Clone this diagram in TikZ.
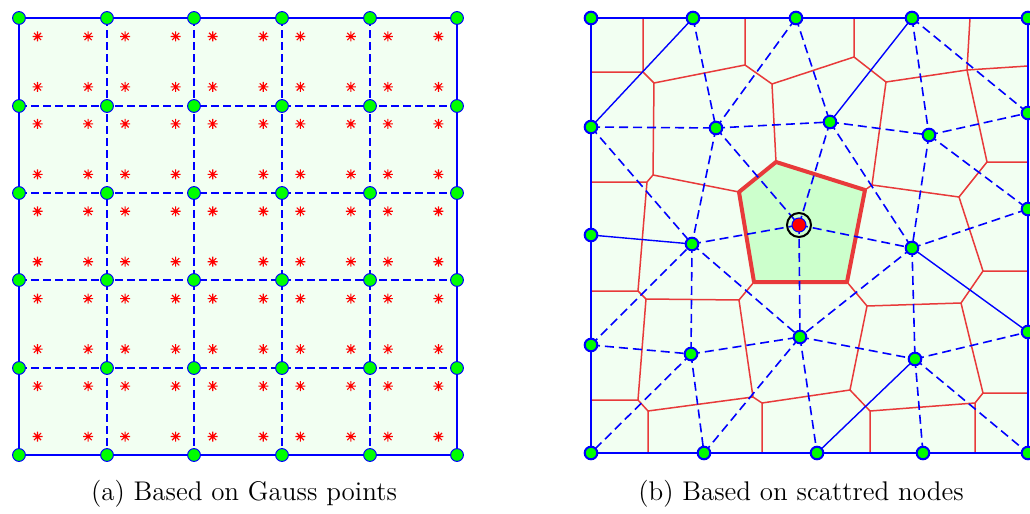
\documentclass[tikz,border=0pt]{standalone}
\usepackage{fontspec}
\definecolor{bgfill}{RGB}{242,255,242}
\definecolor{pentfill}{RGB}{204,255,204}
\definecolor{vorred}{RGB}{232,58,58}
\definecolor{nodegreen}{RGB}{0,255,0}
\definecolor{mblue}{RGB}{0,0,255}
\begin{document}
\begin{tikzpicture}[x=0.5pt,y=-0.5pt,
  anchorpt/.style={circle,inner sep=0pt,minimum size=0pt},
  gn/.style={circle,fill=nodegreen,draw=mblue,line width=0.5pt,minimum size=6.4pt,inner sep=0pt},
  sn/.style={circle,fill=nodegreen,draw=mblue,line width=1pt,minimum size=6.3pt,inner sep=0pt},
  cn/.style={circle,fill=red,draw=mblue,line width=0.5pt,minimum size=7pt,inner sep=0pt},
  ring/.style={circle,draw=black,line width=1pt,minimum size=12pt,inner sep=0pt},
  gdash/.style={draw=mblue,line width=1pt,dash pattern=on 4pt off 2pt},
  gborder/.style={draw=mblue,line width=1.1pt},
  sdash/.style={draw=mblue,line width=0.8pt,dash pattern=on 4.5pt off 2.5pt},
  ssolid/.style={draw=mblue,line width=0.7pt},
  vor/.style={draw=vorred,line width=0.75pt,line join=round},
  vorthick/.style={draw=vorred,line width=2pt,line join=round},
  captext/.style={anchor=base,font=\fontsize{13.5}{16}\selectfont},
  gstar/.pic={\draw[red,line width=0.55pt] (-2.5pt,0)--(2.5pt,0) (0,-2.5pt)--(0,2.5pt)
     (-1.8pt,-1.8pt)--(1.8pt,1.8pt) (-1.8pt,1.8pt)--(1.8pt,-1.8pt);}
]
\useasboundingbox (0,0) rectangle (1030,514);

% ================= (a) left panel =================
\foreach \i/\x in {0/19,1/107,2/194,3/282,4/370,5/457}{
  \foreach \j/\y in {0/18,1/106,2/193,3/280,4/368,5/455}{
    \node[anchorpt] (g\i\j) at (\x,\y) {};
  }
}
\fill[bgfill] (g00.center) rectangle (g55.center);
\path[gdash]
  (g10.center) -- (g15.center) (g20.center) -- (g25.center)
  (g30.center) -- (g35.center) (g40.center) -- (g45.center)
  (g01.center) -- (g51.center) (g02.center) -- (g52.center)
  (g03.center) -- (g53.center) (g04.center) -- (g54.center);
\path[gborder] (g00.center) rectangle (g55.center);
\foreach \i in {0,...,4}{
  \foreach \j in {0,...,4}{
    \foreach \a in {0.2113,0.7887}{
      \foreach \b in {0.2113,0.7887}{
        \pic at ({19+87.6*(\i+\a)},{18+87.4*(\j+\b)}) {gstar};
      }
    }
  }
}
\foreach \i in {0,...,5}{
  \foreach \j in {0,...,5}{
    \node[gn] (gm\i\j) at (g\i\j) {};
  }
}

% ================= (b) right panel =================
\foreach \n/\x/\y in {TL/591/18,B2/693/18,B3/796/18,B4/912/18,TR/1028/18,
    R1/1028/113,R2/1028/209,R3/1028/332,BR/1028/453,D4/923/453,D3/817/453,
    D2/704/453,BL/591/453,L3/591/345,L2/591/235,L1/591/127,I1/716/128,
    I2/830/122,I3/929/135,I4/692/244,I5/912/248,I6/691/354,I7/800/337,
    I8/915/359,C/799/225}{
  \node[anchorpt] (\n) at (\x,\y) {};
}

% cell vertices
\coordinate (t1) at (643,18);  \coordinate (t2) at (745,18);
\coordinate (t3) at (854,18);  \coordinate (t4) at (970,18);
\coordinate (l1) at (591,72);  \coordinate (l2) at (591,182);
\coordinate (l3) at (591,291); \coordinate (l4) at (591,400);
\coordinate (b1) at (648,453); \coordinate (b2) at (762,453);
\coordinate (b3) at (870,453); \coordinate (b4) at (975,453);
\coordinate (r1) at (1028,66); \coordinate (r2) at (1028,162);
\coordinate (r3) at (1028,271);\coordinate (r4) at (1028,393);
\coordinate (v1) at (643,72);  \coordinate (v2) at (654,83);
\coordinate (v3) at (745,65);  \coordinate (v4) at (772,84);
\coordinate (v5) at (854,57);  \coordinate (v6) at (886,82);
\coordinate (v7) at (967,70);  \coordinate (v8) at (987,162);
\coordinate (v9) at (959,197); \coordinate (v10) at (872,185);
\coordinate (v12) at (653,175);\coordinate (v13) at (647,182);
\coordinate (v14) at (739,300);\coordinate (v15) at (646,299);
\coordinate (v16) at (638,291);\coordinate (v17) at (638,400);
\coordinate (v18) at (648,411);\coordinate (v19) at (753,397);
\coordinate (v20) at (762,403);\coordinate (v21) at (850,390);
\coordinate (v22) at (867,306);\coordinate (v23) at (961,303);
\coordinate (v24) at (983,271);\coordinate (v25) at (983,393);
\coordinate (v26) at (975,403);\coordinate (v27) at (870,411);
\coordinate (p1) at (739,192); \coordinate (p2) at (776,162);
\coordinate (p3) at (865,190); \coordinate (p4) at (847,282);
\coordinate (p5) at (754,282);

\fill[bgfill] (TL.center) rectangle (BR.center);
\fill[pentfill] (p1) -- (p2) -- (p3) -- (p4) -- (p5) -- cycle;
\path[vor] (t1)--(v1)--(l1) (v1)--(v2)--(v3)--(t2) (v2)--(v12)--(p1)
  (v12)--(v13)--(l2) (v13)--(v16)--(l3) (v3)--(v4)--(v5)--(t3) (v4)--(p2)
  (v5)--(v6)--(v7)--(t4) (v7)--(r1) (v7)--(v8)--(r2) (v8)--(v9)--(v10)--(v6)
  (v10)--(p3) (v9)--(v24)--(r3) (v24)--(v23)--(v22)--(p4) (v23)--(v25)--(r4)
  (v25)--(v26)--(b4) (v26)--(v27)--(b3) (v27)--(v21)--(v22)
  (v21)--(v20)--(b2) (v20)--(v19)--(v18)--(b1) (v18)--(v17)--(l4)
  (v17)--(v15)--(v16) (v15)--(v14)--(p5) (v14)--(v19);
\path[vorthick] (p1) -- (p2) -- (p3) -- (p4) -- (p5) -- cycle;
% triangulation edges
\path[sdash] (L1.center)--(I1.center) (B2.center)--(I1.center)
  (I1.center)--(B3.center) (I1.center)--(I2.center) (I1.center)--(C.center)
  (L1.center)--(I4.center) (I1.center)--(I4.center) (B3.center)--(I2.center)
  (I4.center)--(C.center) (B4.center)--(I3.center) (B4.center)--(R1.center)
  (I3.center)--(R1.center) (I2.center)--(I3.center) (I2.center)--(C.center)
  (I2.center)--(I5.center) (I3.center)--(I5.center) (I3.center)--(R2.center)
  (C.center)--(I5.center) (I4.center)--(I6.center) (I4.center)--(I7.center)
  (L3.center)--(I4.center) (L3.center)--(I6.center) (I6.center)--(I7.center)
  (I6.center)--(BL.center) (I6.center)--(D2.center) (D2.center)--(I7.center)
  (C.center)--(I7.center) (I7.center)--(D3.center) (I5.center)--(I7.center)
  (I5.center)--(I8.center) (I5.center)--(R2.center) (I7.center)--(I8.center)
  (I8.center)--(R3.center) (I8.center)--(D4.center) (I8.center)--(BR.center);
\path[ssolid] (L1.center)--(B2.center) (L2.center)--(I4.center)
  (I2.center)--(B4.center) (I5.center)--(R3.center) (I8.center)--(D3.center);
\path[gborder] (TL.center) rectangle (BR.center);

% node markers
\foreach \n in {TL,B2,B3,B4,TR,R1,R2,R3,BR,D4,D3,D2,BL,L3,L2,L1,
    I1,I2,I3,I4,I5,I6,I7,I8}{
  \node[sn] (m\n) at (\n) {};
}
\node[cn] (mC) at (C) {};
\node[ring] (Cr) at (C) {};

% captions
\node[captext] (capa) at (244,500) {(a) Based on Gauss points};
\node[captext] (capb) at (801,500) {(b) Based on scattred nodes};
\end{tikzpicture}
\end{document}
